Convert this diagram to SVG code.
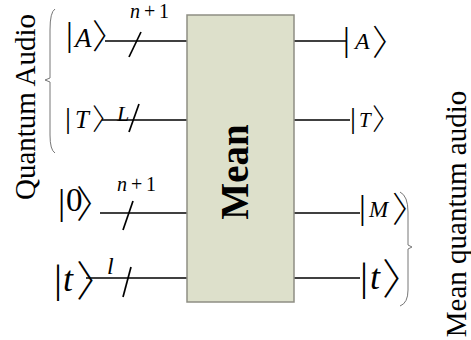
<svg xmlns="http://www.w3.org/2000/svg" width="471" height="340" viewBox="0 0 471 340">
<style>
text{font-family:"Liberation Serif","Times New Roman",serif;fill:#000}
.it{font-style:italic}
.br{font-family:"Noto Sans CJK SC",sans-serif;font-weight:300}
.w{stroke:#000;stroke-width:1.7;fill:none}
.s{stroke:#000;stroke-width:1.7;fill:none}
.brace{stroke:#777;stroke-width:1;fill:none}
</style>
<rect width="471" height="340" fill="#fff"/>
<g id="labels">
<text transform="translate(35,107) rotate(-90)" text-anchor="middle" font-size="29">Quantum Audio</text>
<text transform="translate(466,214) rotate(-90)" text-anchor="middle" font-size="29">Mean quantum audio</text>
</g>
<g id="braces">
<path class="brace" d="M55,9 Q50,12 50,30 L50,78 L45,80 L50,82 L50,135 Q50,150 55,153"/>
<path class="brace" d="M400,192 Q408,196 408,212 L408,245 L412,247 L408,249 L408,290 Q408,303 400,306"/>
</g>
<g id="connectors">
<line class="w" x1="105" y1="41" x2="187" y2="41"/>
<line class="w" x1="102" y1="120" x2="187" y2="120"/>
<line class="w" x1="100" y1="213" x2="187" y2="213"/>
<line class="w" x1="86" y1="278" x2="187" y2="278"/>
<line class="w" x1="294" y1="41" x2="346" y2="41"/>
<line class="w" x1="294" y1="120" x2="350" y2="120"/>
<line class="w" x1="294" y1="213" x2="360" y2="213"/>
<line class="w" x1="294" y1="278" x2="360" y2="278"/>
<line class="s" x1="141" y1="32" x2="129" y2="57"/>
<line class="s" x1="139" y1="104" x2="129" y2="132"/>
<line class="s" x1="133" y1="201" x2="123" y2="230"/>
<line class="s" x1="131" y1="267" x2="123" y2="297"/>
</g>
<g id="mean">
<rect x="187" y="15" width="107" height="287" fill="#dde0cb" stroke="#8e8e84" stroke-width="1.5"/>
<text transform="translate(248,172) rotate(-90)" text-anchor="middle" font-size="39" font-weight="bold">Mean</text>
</g>
<g id="in-A">
<text x="66" y="46" font-size="34">|</text>
<text x="75" y="47" font-size="27" class="it">A</text>
<text class="br" x="92" y="49" font-size="34">〉</text>
<text x="130" y="18" font-size="20"><tspan class="it">n</tspan><tspan x="144">+</tspan><tspan x="159">1</tspan></text>
</g>
<g id="in-T">
<text x="65" y="128" font-size="30">|</text>
<text x="75" y="128" font-size="25" class="it">T</text>
<text class="br" x="92" y="130" font-size="29">〉</text>
<text x="117" y="121" font-size="22" class="it">L</text>
</g>
<g id="in-0">
<text x="58" y="214" font-size="36">|</text>
<text x="66" y="211" font-size="33">0</text>
<text class="br" x="76" y="218" font-size="38">〉</text>
<text x="117" y="191" font-size="20"><tspan class="it">n</tspan><tspan x="131">+</tspan><tspan x="146">1</tspan></text>
</g>
<g id="in-t">
<text x="54" y="292" font-size="40">|</text>
<text x="63" y="291" font-size="36" class="it">t</text>
<text class="br" x="76" y="296" font-size="42">〉</text>
<text x="107" y="274" font-size="24" class="it">l</text>
</g>
<g id="out-A">
<text x="343" y="51" font-size="34">|</text>
<text x="355" y="49" font-size="24" class="it">A</text>
<text class="br" x="372" y="55" font-size="35">〉</text>
</g>
<g id="out-T">
<text x="350" y="128" font-size="30">|</text>
<text x="359" y="127" font-size="21" class="it">T</text>
<text class="br" x="372" y="130" font-size="29">〉</text>
</g>
<g id="out-M">
<text x="359" y="219" font-size="34">|</text>
<text x="369" y="217" font-size="23" class="it">M</text>
<text class="br" x="392" y="222" font-size="35">〉</text>
</g>
<g id="out-t">
<text x="360" y="290" font-size="40">|</text>
<text x="370" y="289" font-size="36" class="it">t</text>
<text class="br" x="382" y="294" font-size="42">〉</text>
</g>
</svg>
